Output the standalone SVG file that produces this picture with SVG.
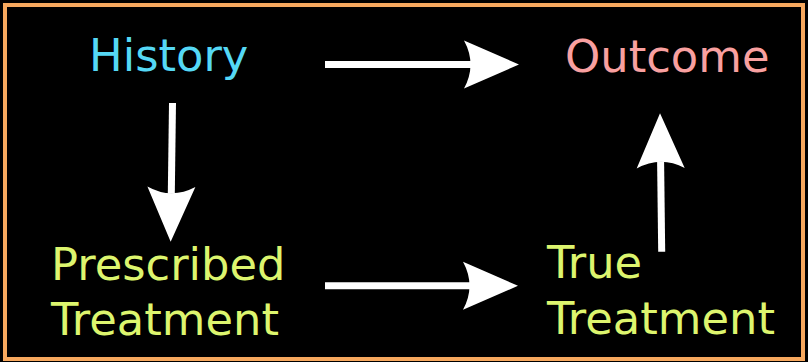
<svg xmlns="http://www.w3.org/2000/svg" width="808" height="362" viewBox="0 0 808 362">
<style>
.lbl{font-family:"DejaVu Sans","Noto Sans",sans-serif;font-size:44.8px}
.conn{stroke:#ffffff;stroke-width:7;fill:none;marker-end:url(#ah)}
</style>
<defs>
<marker id="ah" markerUnits="userSpaceOnUse" viewBox="-56 -25 58 50" markerWidth="58" markerHeight="50" refX="-48" refY="0" orient="auto">
<path d="M0,0 L-55,-24 Q-42,0 -55,24 Z" fill="#ffffff"/>
</marker>
</defs>
<rect x="0" y="0" width="808" height="362" fill="#000000"/>
<rect x="5" y="5" width="798" height="354" fill="#000000" stroke="#f7a85e" stroke-width="4"/>
<g id="connectors">
<path class="conn" d="M325,64.5 L471,64.5"/>
<path class="conn" d="M172.5,103 L171.3,193.7"/>
<path class="conn" d="M325,285.8 L470,285.8"/>
<path class="conn" d="M661.7,251.7 L660.6,161.3"/>
</g>
<g id="history"><text class="lbl" x="89" y="71" fill="#55d8f5">History</text></g>
<g id="outcome"><text class="lbl" x="565" y="72" fill="#f9a0a0">Outcome</text></g>
<g id="prescribed"><text class="lbl" x="51" y="280" fill="#ddf56e">Prescribed</text><text class="lbl" x="51" y="335" fill="#ddf56e">Treatment</text></g>
<g id="true"><text class="lbl" x="547" y="278" fill="#ddf56e">True</text><text class="lbl" x="547" y="334" fill="#ddf56e">Treatment</text></g>
</svg>
